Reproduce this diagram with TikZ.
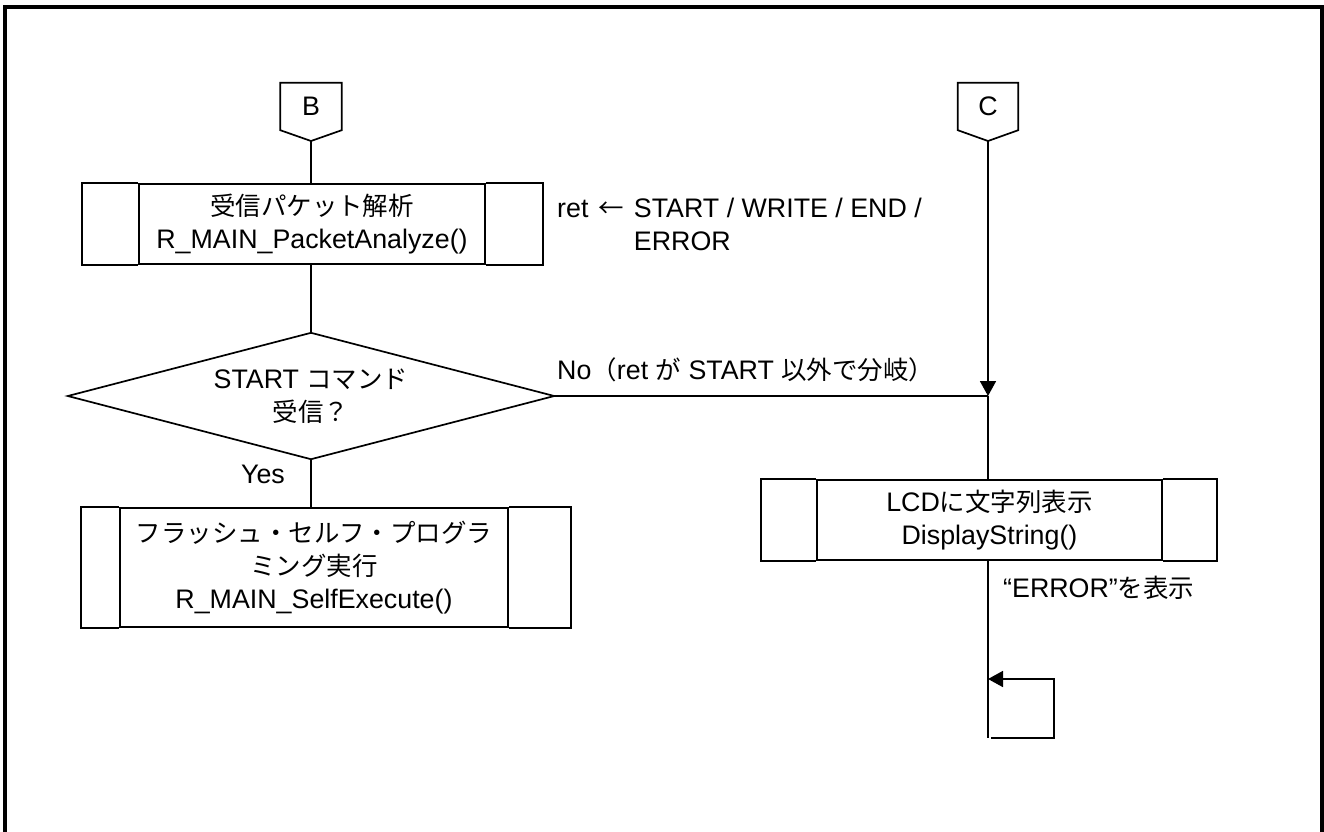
\documentclass[tikz,border=0pt]{standalone}
\usepackage{fontspec}
\setmainfont{Liberation Sans}
\newfontfamily\jp[Scale=0.95]{Noto Sans CJK JP}
\usetikzlibrary{arrows.meta}
\begin{document}
\begin{tikzpicture}[x=1pt,y=-1pt,
  every node/.style={font=\fontsize{26.8}{33}\selectfont, inner sep=0pt},
  ln/.style={line width=1.7pt},
  arr/.style={ln, -{Triangle[length=15pt,width=16pt]}},
  proc/.style={draw, line width=1.7pt, align=center},
  conn/.style={minimum height=47pt},
]
\useasboundingbox (0,0) rectangle (1324,831);
\draw[line width=3.5pt] (5,835) -- (5,7) -- (1322,7) -- (1322,835);

% off-page connectors
\node[conn, minimum width=61pt] (B) at (311,106.5) {B};
\coordinate (Btip) at (311,141);
\draw[ln] (B.north west) -- (B.north east) -- (B.south east) -- (Btip) -- (B.south west) -- cycle;

\node[conn, minimum width=60pt] (C) at (988,106.5) {C};
\coordinate (Ctip) at (988,141);
\draw[ln] (C.north west) -- (C.north east) -- (C.south east) -- (Ctip) -- (C.south west) -- cycle;

% process 1
\node[proc, minimum width=346pt, minimum height=80pt] (p1) at (312,224) {{\jp 受信パケット解析}\\R\_MAIN\_PacketAnalyze()};
\draw[ln] (p1.north west) -- ++(-56,0) |- (p1.south west);
\draw[ln] (p1.north east) -- ++(57,0) |- (p1.south east);

% decision
\node[minimum width=486pt, minimum height=126pt, align=center] (d) at (311,396) {START {\jp コマンド}\\{\jp 受信？}};
\draw[ln] (d.west) -- (d.north) -- (d.east) -- (d.south) -- cycle;

% process 3
\node[proc, minimum width=388pt, minimum height=119pt] (p3) at (314,567.5) {{\jp フラッシュ・セルフ・プログラ}\\{\jp ミング実行}\\R\_MAIN\_SelfExecute()};
\draw[ln] (p3.north west) -- ++(-38,0) |- (p3.south west);
\draw[ln] (p3.north east) -- ++(62,0) |- (p3.south east);

% process 2
\node[proc, minimum width=345pt, minimum height=80pt] (p2) at (989.5,520) {LCD{\jp に文字列表示}\\DisplayString()};
\draw[ln] (p2.north west) -- ++(-55,0) |- (p2.south west);
\draw[ln] (p2.north east) -- ++(54,0) |- (p2.south east);

% connectors
\coordinate (J) at (988,396);
\coordinate (L) at (988,738);
\coordinate (LR) at (1054,738);
\coordinate (LT) at (988,679);

\draw[ln] (Btip) -- (Btip |- p1.north);
\draw[ln] (Btip |- p1.south) -- (d.north);
\draw[ln] (d.south) -- (d.south |- p3.north);
\draw[arr] (Ctip) -- (J);
\draw[ln] (d.east) -- (J);
\draw[ln] (J) -- (J |- p2.north);
\draw[ln] (J |- p2.south) -- (L);
\draw[arr] ([xshift=3pt]L) -- (LR) |- (LT);

% labels
\node[anchor=base west] (ret) at (557,217) {ret\hspace{10pt}{\jp ←}\hspace{10pt}\begin{tabular}[t]{@{}l@{}}START / WRITE / END /\\ERROR\end{tabular}};
\node[anchor=base west] (no) at (557,379) {No{\jp （}ret {\jp が} START {\jp 以外で分岐）}};
\node[anchor=base east] (yes) at (285,483) {Yes};
\node[anchor=base west] (err) at (1003,597) {“ERROR”{\jp を表示}};
\end{tikzpicture}
\end{document}
